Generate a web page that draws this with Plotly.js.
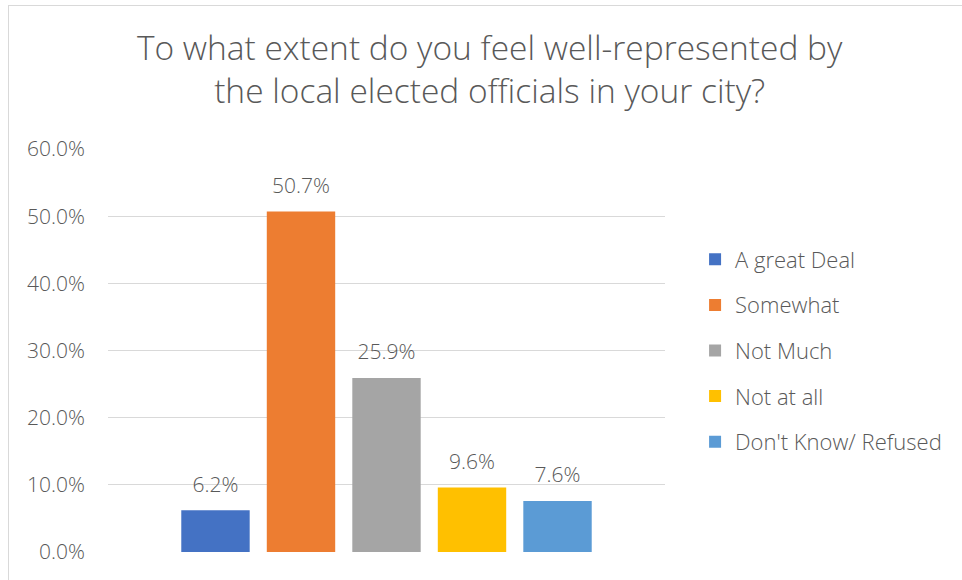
<!DOCTYPE html>
<html>
<head>
<meta charset="utf-8">
<script src="https://cdn.plot.ly/plotly-3.0.1.min.js"></script>
<style>
  html, body { margin: 0; padding: 0; background: #fff; }
  #frame { position: absolute; left: 8px; top: 5px; width: 960px; height: 580px;
           border-left: 1px solid #d9d9d9; border-top: 1px solid #d9d9d9; }
  #chart { position: absolute; left: 0; top: 0; width: 962px; height: 580px; }
</style>
</head>
<body>
<div id="frame"></div>
<div id="chart"></div>
<script>
const categories = ["A great Deal", "Somewhat", "Not Much", "Not at all", "Don't Know/ Refused"];
const values = [6.2, 50.7, 25.9, 9.6, 7.6];
const colors = ["#4472C4", "#ED7D31", "#A5A5A5", "#FFC000", "#5B9BD5"];
const yTicks = [0, 10, 20, 30, 40, 50, 60];

const FONT = "Open Sans, Lato, sans-serif";
const GRAY = "#595959";
const W = 300;

const traces = categories.map((c, i) => ({
  type: "bar",
  name: c,
  x: [c],
  y: [values[i]],
  width: 0.8,
  marker: { color: colors[i] },
  legendgroup: "g" + i,
  hoverinfo: "skip"
}));

traces.push({
  type: "scatter",
  mode: "markers+text",
  x: categories,
  y: values,
  text: values.map(v => v.toFixed(1) + "%"),
  textposition: "top center",
  marker: { size: 20, opacity: 0 },
  textfont: { family: FONT, size: 21, color: GRAY, weight: W },
  cliponaxis: false,
  showlegend: false,
  hoverinfo: "skip"
});

const layout = {
  width: 962,
  height: 580,
  paper_bgcolor: "rgba(0,0,0,0)",
  plot_bgcolor: "rgba(0,0,0,0)",
  margin: { l: 108, r: 297, t: 149, b: 28 },
  font: { family: FONT, color: GRAY, weight: W },
  title: {
    text: "To what extent do you feel well-represented by<br>the local elected officials in your city?",
    font: { family: FONT, size: 33.5, color: GRAY, weight: W },
    x: 0.509, xanchor: "center",
    xref: "container", yref: "container",
    y: 0.897, yanchor: "middle"
  },
  barmode: "overlay",
  xaxis: {
    type: "category",
    categoryorder: "array", categoryarray: categories,
    range: [-1.257, 5.257],
    showticklabels: false, showgrid: false, zeroline: false, showline: false, ticks: ""
  },
  yaxis: {
    range: [0, 60],
    tickvals: yTicks,
    ticktext: yTicks.map(v => v.toFixed(1) + "%"),
    tickfont: { family: FONT, size: 21, color: GRAY, weight: W },
    showgrid: true, gridcolor: "#d9d9d9", gridwidth: 1.3,
    zeroline: false, showline: false, ticks: "",
    ticklabelstandoff: 22
  },
  showlegend: true,
  legend: {
    x: 1.054, xanchor: "left",
    y: 0.5, yanchor: "middle",
    font: { family: FONT, size: 22, color: GRAY, weight: W },
    traceorder: "grouped",
    tracegroupgap: 14,
    itemwidth: 30
  }
};

Plotly.newPlot("chart", traces, layout, { displayModeBar: false, staticPlot: true });
</script>
</body>
</html>
